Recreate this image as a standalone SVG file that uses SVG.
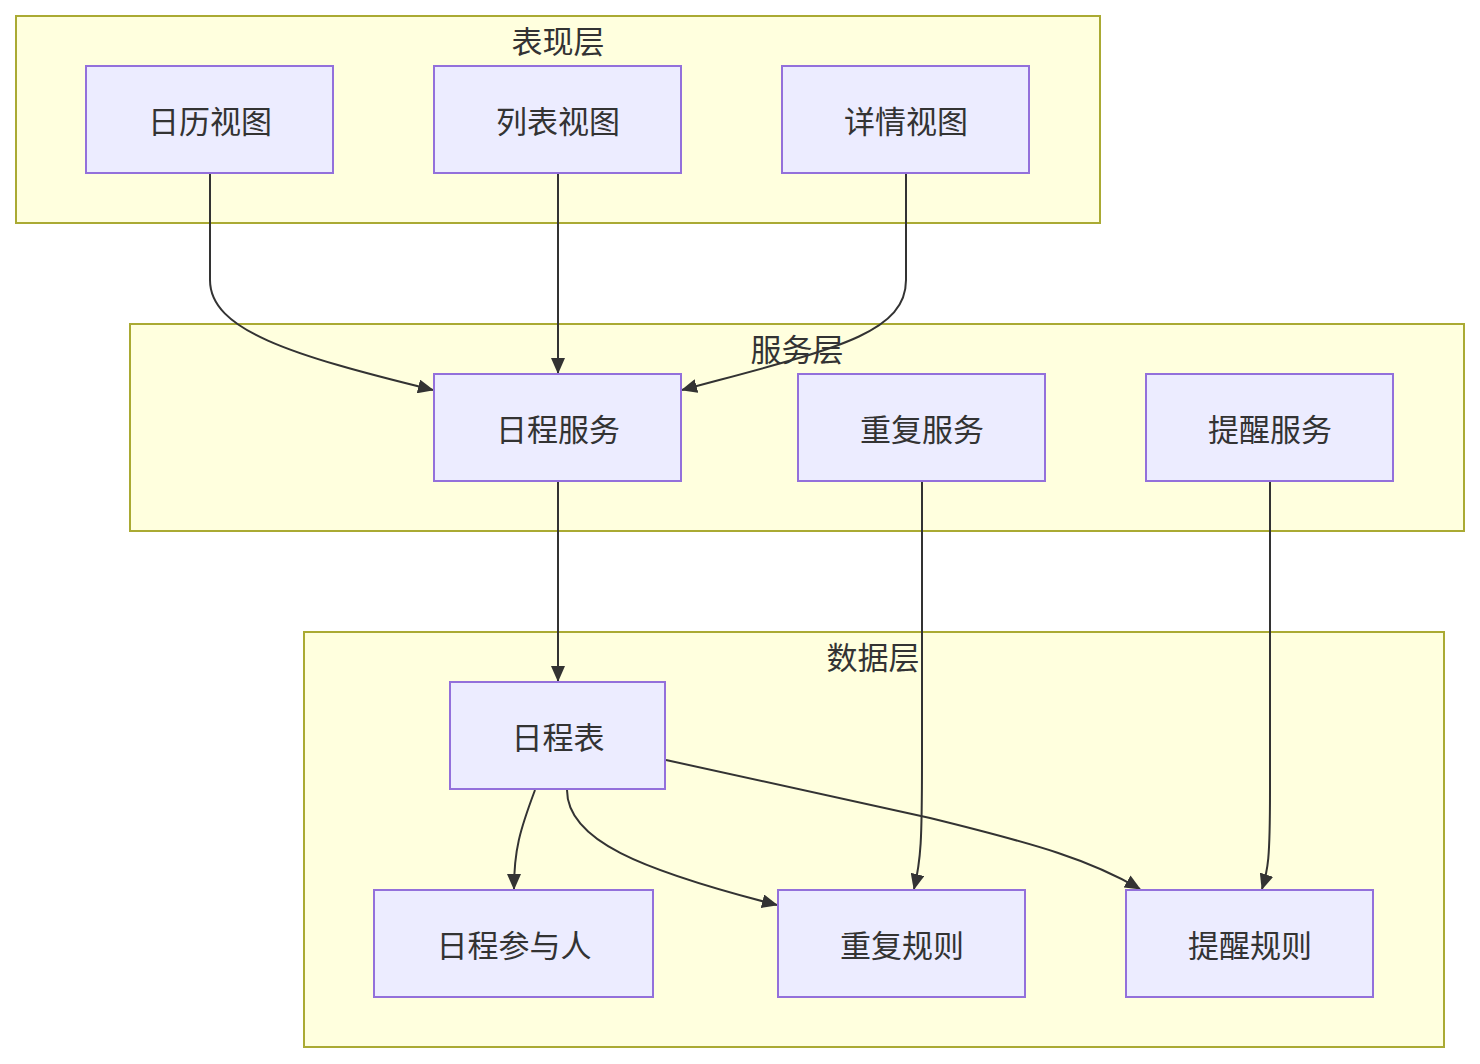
<svg xmlns="http://www.w3.org/2000/svg" width="1480" height="1064" viewBox="0 0 1480 1064">
<style>
.cluster{fill:#ffffde;stroke:#aaaa33;stroke-width:2}
.node rect{fill:#ececff;stroke:#9370db;stroke-width:2}
text{font-family:"Noto Sans CJK SC","Noto Sans",sans-serif;font-size:31px;fill:#333;text-anchor:middle;dominant-baseline:central}
.edge{fill:none;stroke:#333;stroke-width:2;marker-end:url(#arrow)}
</style>
<defs>
<marker id="arrow" viewBox="0 0 16 14" refX="15" refY="7" markerWidth="16" markerHeight="14" markerUnits="userSpaceOnUse" orient="auto">
<path d="M0,0 L16,7 L0,14 z" fill="#333"/>
</marker>
</defs>
<g id="clusters">
<g id="cluster-present"><rect class="cluster" x="16" y="16" width="1084" height="207"/><text x="558" y="39">表现层</text></g>
<g id="cluster-service"><rect class="cluster" x="130" y="324" width="1334" height="207"/><text x="797" y="347">服务层</text></g>
<g id="cluster-data"><rect class="cluster" x="304" y="632" width="1140" height="415"/><text x="873" y="655">数据层</text></g>
</g>
<g id="connectors">
<path class="edge" d="M210,174 L210,280 C210,330 290,355 433,390"/>
<path class="edge" d="M558,174 L558,373"/>
<path class="edge" d="M906,174 L906,280 C906,335 830,350 682,390"/>
<path class="edge" d="M558,482 L558,681"/>
<path class="edge" d="M922,482 L922,760 C922,840 921,860 914,889"/>
<path class="edge" d="M1270,482 L1270,790 C1270,860 1268,870 1262,889"/>
<path class="edge" d="M535,790 C520,830 514,850 514,889"/>
<path class="edge" d="M567,790 C567,840 640,870 777,905"/>
<path class="edge" d="M666,760 L930,818 C1040,845 1090,860 1140,889"/>
</g>
<g id="n-calendar" class="node"><rect x="86" y="66" width="247" height="107"/><text x="210" y="119">日历视图</text></g>
<g id="n-list" class="node"><rect x="434" y="66" width="247" height="107"/><text x="558" y="119">列表视图</text></g>
<g id="n-detail" class="node"><rect x="782" y="66" width="247" height="107"/><text x="906" y="119">详情视图</text></g>
<g id="n-schedsvc" class="node"><rect x="434" y="374" width="247" height="107"/><text x="558" y="427">日程服务</text></g>
<g id="n-repeatsvc" class="node"><rect x="798" y="374" width="247" height="107"/><text x="922" y="427">重复服务</text></g>
<g id="n-remindsvc" class="node"><rect x="1146" y="374" width="247" height="107"/><text x="1270" y="427">提醒服务</text></g>
<g id="n-schedtbl" class="node"><rect x="450" y="682" width="215" height="107"/><text x="558" y="735">日程表</text></g>
<g id="n-attendee" class="node"><rect x="374" y="890" width="279" height="107"/><text x="514" y="943">日程参与人</text></g>
<g id="n-repeatrule" class="node"><rect x="778" y="890" width="247" height="107"/><text x="902" y="943">重复规则</text></g>
<g id="n-remindrule" class="node"><rect x="1126" y="890" width="247" height="107"/><text x="1250" y="943">提醒规则</text></g>
</svg>
